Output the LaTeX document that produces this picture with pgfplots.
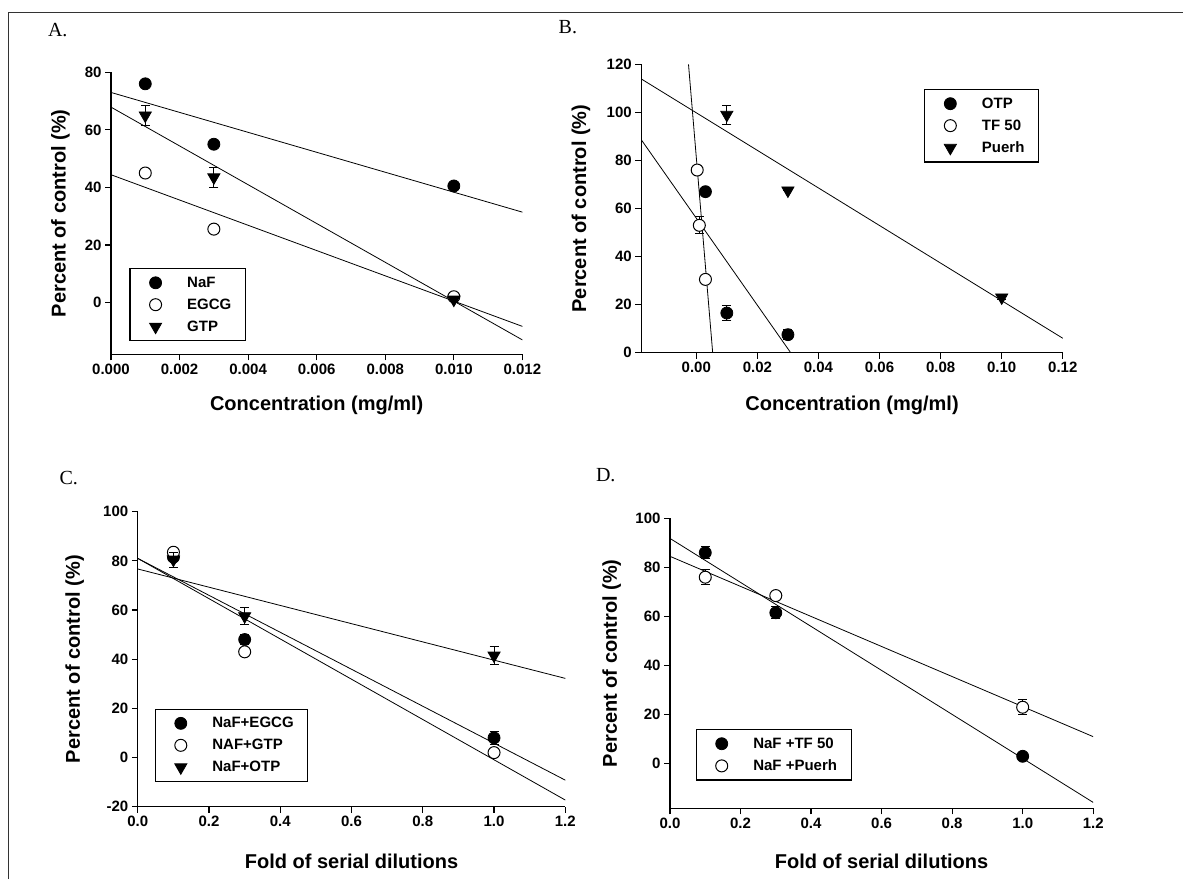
\documentclass[border=0pt]{standalone}
\usepackage{fontspec}
\setmainfont{Liberation Sans}
\newfontfamily\seriffont{Liberation Serif}
\usepackage{pgfplots}
\pgfplotsset{compat=1.18}
\newcommand{\legtxt}[1]{\hspace{16pt}#1}
\pgfplotsset{
 panel/.style={
  scale only axis, anchor=south west,
  axis x line*=bottom, axis y line*=left,
  axis line style={line width=1.2pt,-},
  tick align=outside, major tick length=6pt,
  every tick/.style={line width=1.2pt,black},
  tick label style={font=\fontsize{15}{18}\selectfont\bfseries},
  label style={font=\fontsize{20}{24}\selectfont\bfseries},
  scaled ticks=false,
  /pgf/number format/assume math mode=true,
  clip mode=individual,
  legend style={draw=black, line width=1.2pt, anchor=north west,
    font=\fontsize{15}{18}\selectfont\bfseries, legend cell align=left,
    inner xsep=12pt, inner ysep=6pt, row sep=6pt,
    nodes={inner sep=2pt}},
  legend image code/.code={\path (-13pt,0pt) (13pt,0pt); \draw[##1] plot coordinates {(0pt,0pt)};},
 },
 fitline/.style={no marks, line width=0.8pt, black, forget plot},
 fillc/.style={only marks, mark=*, mark size=6pt, mark options={fill=black, draw=black, line width=0.8pt}},
 openc/.style={only marks, mark=*, mark size=6pt, mark options={fill=white, draw=black, line width=1pt}},
 tri/.style={only marks, mark=triangle*, mark size=7pt, mark options={rotate=180, fill=black, draw=black, line width=0.8pt}},
 ebar/.style={error bars/.cd, y dir=both, y explicit, error bar style={line width=1pt, black}, error mark options={rotate=90, mark size=4.5pt, line width=1pt, black}},
}
\begin{document}
\begin{tikzpicture}[x=1pt,y=1pt]
\path[use as bounding box] (0,0) rectangle (1183,879);
\draw[line width=1.3pt, black!80] (8.3,0) -- (8.3,866.5) -- (1183,866.5);
\node[anchor=west, inner sep=0pt, font=\seriffont\fontsize{20}{24}\selectfont] at (47.8,849) {A.};
\node[anchor=west, inner sep=0pt, font=\seriffont\fontsize{20}{24}\selectfont] at (558.5,851.5) {B.};
\node[anchor=west, inner sep=0pt, font=\seriffont\fontsize{20}{24}\selectfont] at (59.3,401) {C.};
\node[anchor=west, inner sep=0pt, font=\seriffont\fontsize{20}{24}\selectfont] at (595.8,404) {D.};

% Panel A
\begin{axis}[panel, at={(111pt,524.7pt)}, width=411.4pt, height=282pt,
  xmin=0, xmax=0.012, ymin=-18, ymax=80,
  xtick={0,0.002,0.004,0.006,0.008,0.010,0.012}, ytick={0,20,40,60,80},
  x tick label style={/pgf/number format/.cd, fixed, fixed zerofill, precision=3, /tikz/.cd},
  xlabel={Concentration (mg/ml)}, ylabel={Percent of control (\%)},
  xlabel style={at={(axis description cs:0.5,0)}, yshift=-50.7pt, anchor=center},
  ylabel style={at={([xshift=-50.5pt]axis description cs:0,0.5)}, anchor=center},
  legend style={at={(axis description cs:0.0447,0.305)}}]
\addplot[fitline] coordinates {(0,73) (0.012,31.4)};
\addplot[fitline] coordinates {(0,67.9) (0.012,-13.0)};
\addplot[fitline] coordinates {(0,44.4) (0.012,-8.3)};
\addplot[fillc, ebar] table[x=x, y=y, y error=e] {
x y e
0.001 76 0
0.003 55 0
0.010 40.5 0.8
};
\addplot[openc, ebar] table[x=x, y=y, y error=e] {
x y e
0.001 45 0
0.003 25.5 1
0.010 2 0
};
\addplot[tri, ebar] table[x=x, y=y, y error=e] {
x y e
0.001 65 3.5
0.003 43.5 3.5
0.010 1 0
};
\legend{\legtxt{NaF}, \legtxt{EGCG}, \legtxt{GTP}}
\end{axis}

% Panel B
\begin{axis}[panel, at={(641.3pt,526.3pt)}, width=421.5pt, height=288.4pt,
  xmin=-0.018, xmax=0.12, ymin=0, ymax=120,
  xtick={0,0.02,0.04,0.06,0.08,0.10,0.12}, ytick={0,20,40,60,80,100,120},
  x tick label style={/pgf/number format/.cd, fixed, fixed zerofill, precision=2, /tikz/.cd},
  xlabel={Concentration (mg/ml)}, ylabel={Percent of control (\%)},
  xlabel style={at={(axis description cs:0.5,0)}, yshift=-52.3pt, anchor=center},
  ylabel style={at={([xshift=-60.3pt]axis description cs:0,0.5)}, anchor=center},
  legend style={at={(axis description cs:0.671,0.914)}}]
\addplot[fitline] coordinates {(-0.018,113.9) (0.12,6.0)};
\addplot[fitline] coordinates {(-0.018,88.6) (0.0309,0)};
\addplot[fitline] coordinates {(-0.00255,120) (0.00537,0)};
\addplot[fillc, ebar] table[x=x, y=y, y error=e] {
x y e
0.003 67 1.5
0.010 16.5 3
0.030 7.5 2
};
\addplot[openc, ebar] table[x=x, y=y, y error=e] {
x y e
0.0003 76 0
0.001 53 3.5
0.003 30.5 1
};
\addplot[tri, ebar] table[x=x, y=y, y error=e] {
x y e
0.010 99 4
0.030 67.5 0
0.100 23 1
};
\legend{\legtxt{OTP}, \legtxt{TF 50}, \legtxt{Puerh}}
\end{axis}

% Panel C
\begin{axis}[panel, at={(137.8pt,72.3pt)}, width=427.5pt, height=295pt,
  xmin=0, xmax=1.2, ymin=-20, ymax=100,
  xtick={0,0.2,0.4,0.6,0.8,1.0,1.2}, ytick={-20,0,20,40,60,80,100},
  x tick label style={/pgf/number format/.cd, fixed, fixed zerofill, precision=1, /tikz/.cd},
  xlabel={Fold of serial dilutions}, ylabel={Percent of control (\%)},
  xlabel style={at={(axis description cs:0.5,0)}, yshift=-54.3pt, anchor=center},
  ylabel style={at={([xshift=-63.2pt]axis description cs:0,0.5)}, anchor=center},
  legend style={at={(axis description cs:0.0393,0.332)}}]
\addplot[fitline] coordinates {(0,76.7) (1.2,32.2)};
\addplot[fitline] coordinates {(0,81) (1.2,-9.2)};
\addplot[fitline] coordinates {(0,81) (1.2,-17.3)};
\addplot[fillc, ebar] table[x=x, y=y, y error=e] {
x y e
0.1 81.5 0
0.3 48 2
1.0 8 2.5
};
\addplot[openc, ebar] table[x=x, y=y, y error=e] {
x y e
0.1 83.5 0
0.3 43 0
1.0 2 0
};
\addplot[tri, ebar] table[x=x, y=y, y error=e] {
x y e
0.1 80.5 3
0.3 57.5 3.5
1.0 41.5 3.5
};
\legend{\legtxt{NaF+EGCG}, \legtxt{NAF+GTP}, \legtxt{NaF+OTP}}
\end{axis}

% Panel D
\begin{axis}[panel, at={(670pt,70.7pt)}, width=423.2pt, height=290pt,
  xmin=0, xmax=1.2, ymin=-18.2, ymax=100,
  xtick={0,0.2,0.4,0.6,0.8,1.0,1.2}, ytick={0,20,40,60,80,100},
  x tick label style={/pgf/number format/.cd, fixed, fixed zerofill, precision=1, /tikz/.cd},
  xlabel={Fold of serial dilutions}, ylabel={Percent of control (\%)},
  xlabel style={at={(axis description cs:0.5,0)}, yshift=-52.7pt, anchor=center},
  ylabel style={at={([xshift=-58.4pt]axis description cs:0,0.5)}, anchor=center},
  legend style={at={(axis description cs:0.0603,0.273)}}]
\addplot[fitline] coordinates {(0,91.8) (1.2,-15.8)};
\addplot[fitline] coordinates {(0,84.5) (1.2,11.0)};
\addplot[fillc, ebar] table[x=x, y=y, y error=e] {
x y e
0.1 86 2.5
0.3 61.5 2.5
1.0 3 1
};
\addplot[openc, ebar] table[x=x, y=y, y error=e] {
x y e
0.1 76 3
0.3 68.5 0
1.0 23 3
};
\legend{\legtxt{NaF +TF 50}, \legtxt{NaF +Puerh}}
\end{axis}
\end{tikzpicture}
\end{document}
